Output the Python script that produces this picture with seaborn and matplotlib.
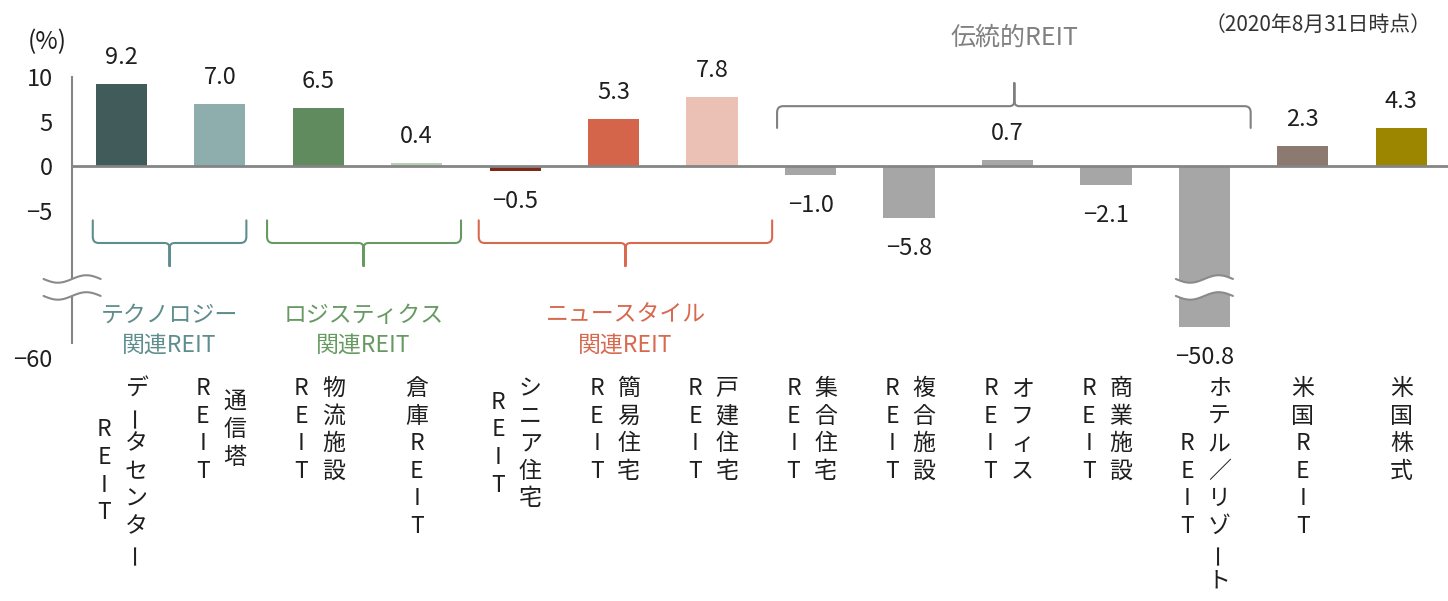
import numpy as np
import pandas as pd
import matplotlib
matplotlib.use("Agg")
import matplotlib.pyplot as plt
import seaborn as sns
from matplotlib.path import Path
from matplotlib.patches import PathPatch, Polygon
from matplotlib.transforms import blended_transform_factory

# ---------------- data ----------------
categories = ["データセンターREIT", "通信塔REIT", "物流施設REIT", "倉庫REIT",
              "シニア住宅REIT", "簡易住宅REIT", "戸建住宅REIT", "集合住宅REIT",
              "複合施設REIT", "オフィスREIT", "商業施設REIT", "ホテル／リゾートREIT",
              "米国REIT", "米国株式"]
returns = [9.2, 7.0, 6.5, 0.4, -0.5, 5.3, 7.8, -1.0, -5.8, 0.7, -2.1, -50.8, 2.3, 4.3]
label_columns = [("データセンター", "REIT"), ("通信塔", "REIT"), ("物流施設", "REIT"),
                 ("倉庫REIT",), ("シニア住宅", "REIT"), ("簡易住宅", "REIT"),
                 ("戸建住宅", "REIT"), ("集合住宅", "REIT"), ("複合施設", "REIT"),
                 ("オフィス", "REIT"), ("商業施設", "REIT"), ("ホテル／リゾート", "REIT"),
                 ("米国REIT",), ("米国株式",)]
group_names = ["テクノロジー\n関連REIT", "ロジスティクス\n関連REIT",
               "ニュースタイル\n関連REIT", "伝統的REIT"]
y_ticks = [10, 5, 0, -5, -10, -60]
y_tick_labels = ["10", "5", "0", "−5", "", ""]
bottom_tick_label = "−60"
unit_label = "(%)"
date_note = "（2020年8月31日時点）"

# ---------------- style ----------------
bar_colors = ["#415b5b", "#8eadad", "#5f8b5e", "#b9cfb3", "#7b2a1a", "#d4654a",
              "#ecc1b5", "#a6a6a6", "#a6a6a6", "#a6a6a6", "#a6a6a6", "#a6a6a6",
              "#8c7a70", "#9c8600"]
group_colors = ["#5f8d8d", "#679a62", "#d8694e", "#808080"]
# brace geometry (x in category units, y in value units)
brace_x = [(-0.29, 0.49, 1.27), (1.48, 2.46, 3.45), (3.63, 5.12, 6.61), (6.66, 9.07, 11.47)]
brace_y_low = (-6.1, -8.65, -11.25)
brace_y_high = (4.3, 6.75, 9.35)
axis_gray = "#858585"
text_dark = "#1f1f1f"

W, H = 1448, 601
sns.set_theme(style="white")
plt.rcParams["font.family"] = ["Noto Sans CJK JP", "DejaVu Sans"]
plt.rcParams["axes.unicode_minus"] = True

fig = plt.figure(figsize=(W / 100, H / 100), dpi=100)
ax_left, ax_right = 72.1, 72.1 + 14 * 98.46
ax_top, ax_bot = 77.3, 343.3
ax = fig.add_axes([ax_left / W, 1 - ax_bot / H, (ax_right - ax_left) / W, (ax_bot - ax_top) / H])

df = pd.DataFrame({"category": categories, "return": returns})
sns.barplot(data=df, x="category", y="return", hue="category",
            palette=dict(zip(categories, bar_colors)), width=0.52, saturation=1,
            errorbar=None, legend=False, ax=ax, edgecolor="none")

# broken y axis via a function scale
brk_hi, brk_lo = -12.7, -33.35
xp = np.array([-60.0, brk_lo, brk_hi, 20.0])
tp = np.array([-19.94, -14.61, brk_hi, 20.0])


def fwd(y):
    return np.interp(y, xp, tp)


def inv(t):
    return np.interp(t, tp, xp)


ax.set_yscale("function", functions=(fwd, inv))
ax.set_ylim(-60, 10)
ax.set_xlim(-0.5, 13.5)

ax.set_yticks(y_ticks)
ax.set_yticklabels(y_tick_labels)
ax.tick_params(axis="y", direction="in", length=4.5, width=1.3, color=axis_gray,
               pad=14, labelsize=17, labelcolor=text_dark)
ax.set_xticks(np.arange(0.5, len(categories) - 0.5, 1))
ax.tick_params(axis="x", direction="in", length=4.5, width=1.1, color=axis_gray,
               labelbottom=False)
ax.set_xlabel("")
ax.set_ylabel("")
for s in ["top", "right"]:
    ax.spines[s].set_visible(False)
ax.spines["bottom"].set_position(("data", 0))
ax.spines["bottom"].set_color(axis_gray)
ax.spines["bottom"].set_linewidth(2.0)
ax.spines["left"].set_color(axis_gray)
ax.spines["left"].set_linewidth(1.5)
ax.patch.set_visible(False)

ax.annotate(bottom_tick_label, xy=(0, -60), xycoords=("axes fraction", "data"),
            xytext=(-20, -17), textcoords="offset pixels", ha="right", va="center",
            fontsize=17, color=text_dark)

# value labels
for i, v in enumerate(returns):
    txt = f"{v:.1f}".replace("-", "−")
    if v >= 0:
        ax.annotate(txt, xy=(i, v), xytext=(0, 20), textcoords="offset pixels",
                    ha="center", va="baseline", fontsize=17, color=text_dark)
    else:
        ax.annotate(txt, xy=(i, v), xytext=(0, -37), textcoords="offset pixels",
                    ha="center", va="baseline", fontsize=17, color=text_dark)

# break marks (drawn in scaled space)
tr_t = ax.transLimits + ax.transAxes
t_up, t_dn = -12.70, -14.61
amp, hw = 0.42, 0.29


def draw_break(xc):
    u = np.linspace(0, 1, 80)
    xs = xc - hw + 2 * hw * u
    up = t_up - amp * np.sin(2 * np.pi * u)
    dn = t_dn - amp * np.sin(2 * np.pi * u)
    poly = np.column_stack([np.concatenate([xs, xs[::-1]]), np.concatenate([up, dn[::-1]])])
    ax.add_patch(Polygon(poly, closed=True, facecolor="white", edgecolor="none",
                         transform=tr_t, clip_on=False, zorder=5))
    for yy in (up, dn):
        ax.plot(xs, yy, color="#8a8a8a", lw=1.5, transform=tr_t, clip_on=False, zorder=6)


draw_break(-0.5)
for i, v in enumerate(returns):
    if v < brk_lo:
        draw_break(i)


# braces
def draw_brace(x0, xc, x1, y_end, y_mid, y_tip, color):
    s = np.sign(y_end - y_mid)
    rx, ry = 0.06, 0.7 * s
    cx, cy = 0.05, 0.6 * s
    verts = [(x0, y_end), (x0, y_mid + ry), (x0, y_mid), (x0 + rx, y_mid),
             (xc - cx, y_mid), (xc, y_mid), (xc, y_mid - cy), (xc, y_tip),
             (xc, y_mid - cy), (xc, y_mid), (xc + cx, y_mid),
             (x1 - rx, y_mid), (x1, y_mid), (x1, y_mid + ry), (x1, y_end)]
    codes = [Path.MOVETO, Path.LINETO, Path.CURVE3, Path.CURVE3,
             Path.LINETO, Path.CURVE3, Path.CURVE3, Path.LINETO,
             Path.LINETO, Path.CURVE3, Path.CURVE3,
             Path.LINETO, Path.CURVE3, Path.CURVE3, Path.LINETO]
    ax.add_patch(PathPatch(Path(verts, codes), facecolor="none", edgecolor=color,
                           lw=1.5, clip_on=False, zorder=4, capstyle="round",
                           joinstyle="round"))


bt = blended_transform_factory(ax.transData, fig.transFigure)
for gi, (name, col, (x0, xc, x1)) in enumerate(zip(group_names, group_colors, brace_x)):
    if gi < 3:
        draw_brace(x0, xc, x1, *brace_y_low, col)
        for li, line in enumerate(name.split("\n")):
            ax.text(xc, 1 - (315 + 30 * li) / H, line, transform=bt, ha="center",
                    va="center", fontsize=16.5, color=col)
    else:
        draw_brace(x0, xc, x1, *brace_y_high, col)
        ax.text(xc, 1 - 38 / H, name, transform=bt, ha="center", va="center",
                fontsize=18, color=col)

# vertical category labels
pitch, top_px = 27.5, 375
for i, cols in enumerate(label_columns):
    maxn = max(len(c) for c in cols)
    offs = [0] if len(cols) == 1 else [15, -17]
    for col_txt, dx in zip(cols, offs):
        n = len(col_txt)
        for k, ch in enumerate(col_txt):
            py = top_px + (maxn - n) * pitch / 2 + (k + 0.5) * pitch
            ax.annotate(ch, xy=(i, 1 - py / H), xycoords=bt, xytext=(dx, 0),
                        textcoords="offset pixels", ha="center", va="center",
                        rotation=90 if ch == "ー" else 0, fontsize=16.5,
                        color=text_dark, annotation_clip=False)

fig.text(47 / W, 1 - 42 / H, unit_label, ha="center", va="center", fontsize=17.5,
         color=text_dark)
fig.text(1432 / W, 1 - 25 / H, date_note, ha="right", va="center", fontsize=15,
         color="#333333")

fig.savefig("out.png", dpi=100)
